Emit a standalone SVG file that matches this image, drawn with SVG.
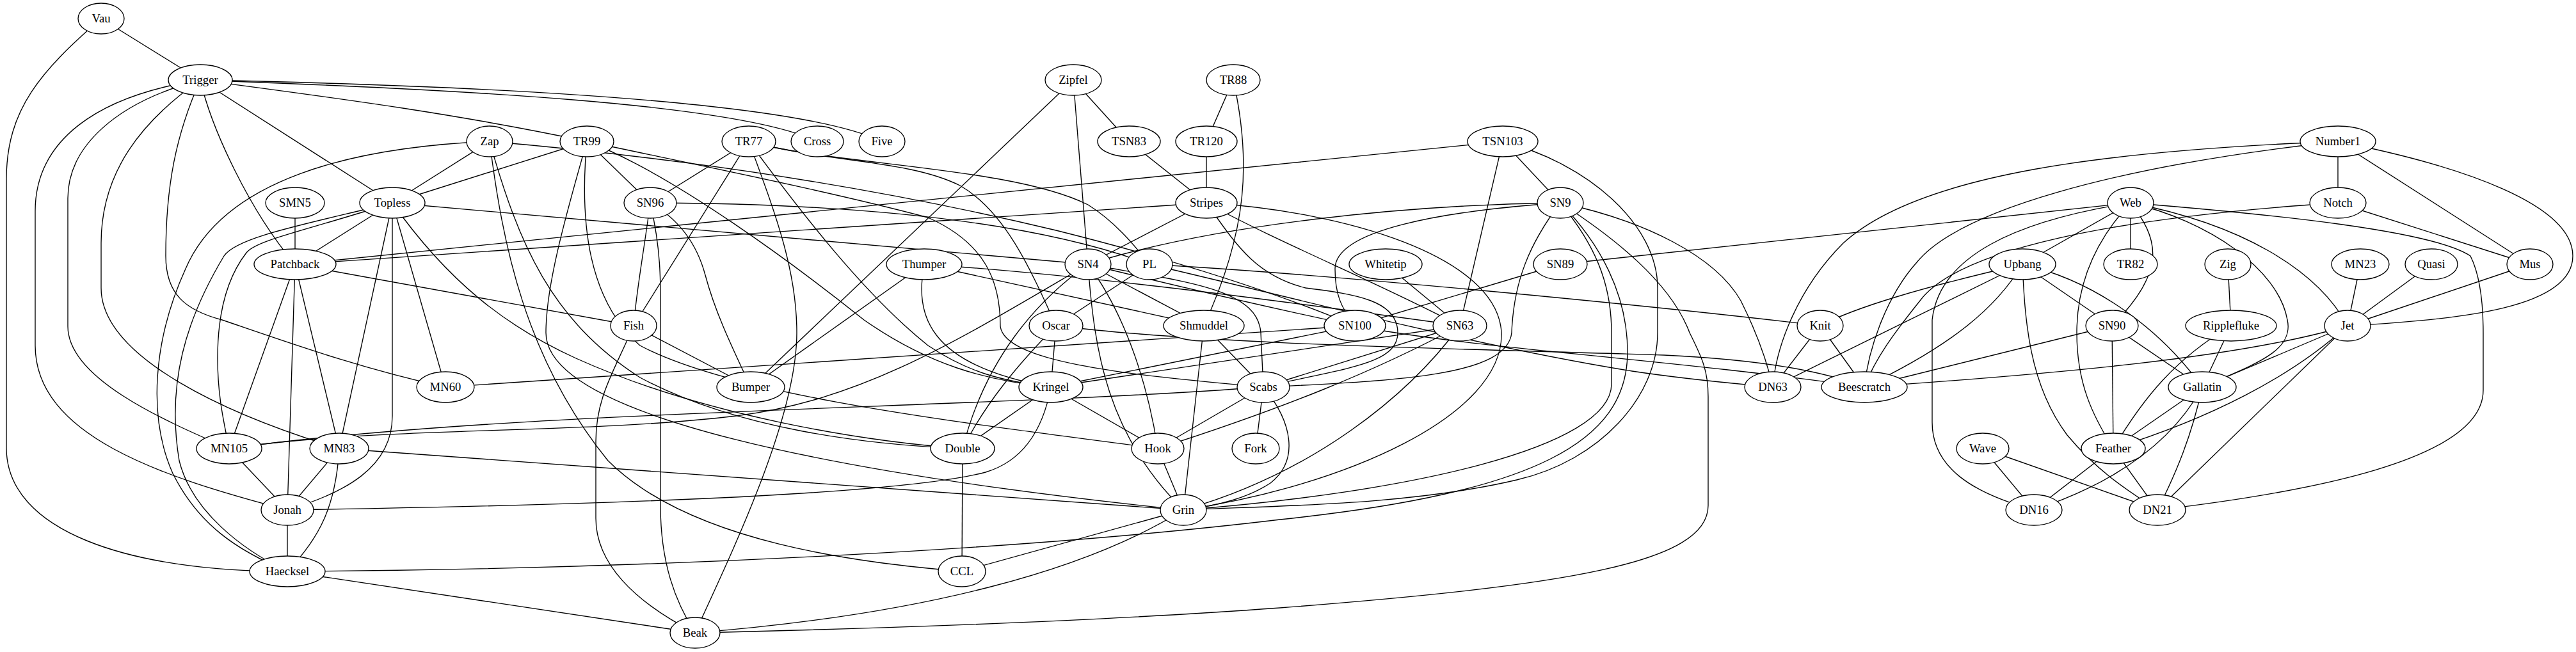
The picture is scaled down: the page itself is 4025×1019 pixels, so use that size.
<svg xmlns="http://www.w3.org/2000/svg" width="4025" height="1019" viewBox="0 0 4025 1019">
<style>
.e{fill:none;stroke:#000;stroke-width:1.35}
.n ellipse{fill:#fff;stroke:#000;stroke-width:1.35}
.n text{font-family:"Liberation Serif","Times New Roman",serif;font-size:18.7px;text-anchor:middle;fill:#000}
</style>
<rect width="4025" height="1019" fill="#fff"/>
<g id="edges">
<path class="e" d="M1504,701 L1503,893"/>
<path class="e" d="M3302,701 L3178,797"/>
<path class="e" d="M3302,701 L3371,797"/>
<path class="e" d="M990,509 C960,580 931,620 931,690 L931,810 C931,880 990,940 1086,989"/>
<path class="e" d="M990,509 L1173,605"/>
<path class="e" d="M3441,605 C3400,680 3320,750 3178,797"/>
<path class="e" d="M3441,605 C3425,680 3400,740 3371,797"/>
<path class="e" d="M3441,605 L3302,701"/>
<path class="e" d="M1849,797 C1700,890 1450,960 1086,989"/>
<path class="e" d="M1849,797 L1503,893"/>
<path class="e" d="M449,893 L1086,989"/>
<path class="e" d="M1809,701 L1849,797"/>
<path class="e" d="M3668,509 C3500,560 3200,585 2913,605"/>
<path class="e" d="M3668,509 L3371,797"/>
<path class="e" d="M3668,509 C3580,590 3450,655 3302,701"/>
<path class="e" d="M3668,509 L3441,605"/>
<path class="e" d="M449,797 L449,893"/>
<path class="e" d="M2844,509 L2913,605"/>
<path class="e" d="M2844,509 L2770,605"/>
<path class="e" d="M1642,605 L1504,701"/>
<path class="e" d="M1642,605 L1809,701"/>
<path class="e" d="M1642,605 C1630,670 1600,720 1540,738 C1400,775 900,790 449,797"/>
<path class="e" d="M358,701 L449,797"/>
<path class="e" d="M3688,413 L3668,509"/>
<path class="e" d="M530,701 L1849,797"/>
<path class="e" d="M530,701 C525,790 500,840 449,893"/>
<path class="e" d="M530,701 L449,797"/>
<path class="e" d="M3953,413 L3668,509"/>
<path class="e" d="M3653,317 C3300,340 3060,390 3000,470 C2960,520 2930,560 2913,605"/>
<path class="e" d="M3653,317 L3953,413"/>
<path class="e" d="M3653,221 C3300,260 3060,330 2995,410 C2950,460 2920,540 2913,605"/>
<path class="e" d="M3653,221 C3300,235 3000,270 2880,380 C2810,450 2775,540 2770,605"/>
<path class="e" d="M3653,221 C3850,260 4020,320 4020,400 C4020,480 3850,500 3668,509"/>
<path class="e" d="M3653,221 L3953,413"/>
<path class="e" d="M3653,221 L3653,317"/>
<path class="e" d="M1650,509 C1900,540 2300,545 2600,555 C2750,562 2850,580 2913,605"/>
<path class="e" d="M1650,509 C1590,570 1540,630 1504,701"/>
<path class="e" d="M1650,509 L1642,605"/>
<path class="e" d="M461,413 L990,509"/>
<path class="e" d="M461,413 L449,797"/>
<path class="e" d="M461,413 L358,701"/>
<path class="e" d="M461,413 L530,701"/>
<path class="e" d="M1796,413 C2000,460 2300,540 2550,580 C2650,595 2720,600 2770,605"/>
<path class="e" d="M1796,413 C2100,430 2600,480 2844,509"/>
<path class="e" d="M1796,413 L1650,509"/>
<path class="e" d="M3799,413 L3668,509"/>
<path class="e" d="M3486,509 C3400,560 3350,620 3302,701"/>
<path class="e" d="M3486,509 L3441,605"/>
<path class="e" d="M1974,605 L1962,701"/>
<path class="e" d="M1974,605 C2020,660 2030,720 1985,755 C1950,778 1905,790 1849,797"/>
<path class="e" d="M1974,605 L1809,701"/>
<path class="e" d="M1974,605 C1500,640 800,640 358,701"/>
<path class="e" d="M1881,509 L1849,797"/>
<path class="e" d="M1881,509 L1974,605"/>
<path class="e" d="M461,317 L461,413"/>
<path class="e" d="M2117,509 C2300,545 2600,560 2913,605"/>
<path class="e" d="M2117,509 L1642,605"/>
<path class="e" d="M2117,509 L696,605"/>
<path class="e" d="M1700,413 C1620,470 1540,560 1504,701"/>
<path class="e" d="M1700,413 C1710,550 1730,680 1849,797"/>
<path class="e" d="M1700,413 C1750,480 1790,580 1809,701"/>
<path class="e" d="M1700,413 C1500,530 1350,625 1150,650 C900,680 600,665 358,701"/>
<path class="e" d="M1700,413 L1881,509"/>
<path class="e" d="M1700,413 C1850,450 1980,480 2117,509"/>
<path class="e" d="M1700,413 C1850,440 1965,450 1970,520 L1974,605"/>
<path class="e" d="M2281,509 C2200,620 2050,740 1849,797"/>
<path class="e" d="M2281,509 C2150,580 2000,640 1809,701"/>
<path class="e" d="M2281,509 L1642,605"/>
<path class="e" d="M2281,509 L1974,605"/>
<path class="e" d="M2438,413 L2117,509"/>
<path class="e" d="M2438,317 C2520,370 2610,440 2640,520 C2660,560 2669,580 2669,620 L2669,790 C2669,880 2450,915 2000,950 C1700,972 1350,983 1086,989"/>
<path class="e" d="M2438,317 C2570,345 2680,400 2720,470 C2745,520 2760,560 2770,605"/>
<path class="e" d="M2438,317 C2490,380 2518,440 2518,520 L2518,600 C2518,700 2200,770 1849,797"/>
<path class="e" d="M2438,317 C2500,380 2543,460 2543,550 C2543,690 2400,770 2000,812 C1600,860 1000,890 449,893"/>
<path class="e" d="M2438,317 C2390,380 2365,440 2362,520 C2355,585 2200,595 1974,605"/>
<path class="e" d="M2438,317 C2250,330 2086,360 2086,420 C2086,460 2095,480 2117,509"/>
<path class="e" d="M2438,317 C2200,320 1900,350 1700,413"/>
<path class="e" d="M3300,509 L2913,605"/>
<path class="e" d="M3300,509 L3302,701"/>
<path class="e" d="M3300,509 L3441,605"/>
<path class="e" d="M1016,317 C1035,400 1032,450 1032,520 L1032,790 C1032,880 1055,940 1086,989"/>
<path class="e" d="M1016,317 C1065,345 1090,385 1102,430 C1118,490 1145,545 1173,605"/>
<path class="e" d="M1016,317 C1005,400 995,450 990,509"/>
<path class="e" d="M1016,317 C1300,318 1600,340 1796,413"/>
<path class="e" d="M1885,317 C2100,330 2340,400 2346,520 C2350,650 2100,760 1849,797"/>
<path class="e" d="M1885,317 L461,413"/>
<path class="e" d="M1885,317 C1930,380 1960,430 2040,450 C2120,460 2184,470 2184,520 C2184,570 2100,575 1974,605"/>
<path class="e" d="M1885,317 L1700,413"/>
<path class="e" d="M1885,317 C2000,380 2150,440 2281,509"/>
<path class="e" d="M1444,413 L1173,605"/>
<path class="e" d="M1444,413 C1430,490 1445,570 1642,605"/>
<path class="e" d="M1444,413 L1881,509"/>
<path class="e" d="M1444,413 C1700,430 2000,470 2281,509"/>
<path class="e" d="M613,317 C700,440 790,510 900,560 C1100,650 1350,690 1504,701"/>
<path class="e" d="M613,317 C480,350 370,370 350,400 C290,500 260,600 280,720 C300,800 380,860 449,893"/>
<path class="e" d="M613,317 L613,650 C613,730 540,770 449,797"/>
<path class="e" d="M613,317 C480,360 400,375 385,395 C350,440 340,500 340,560 C340,620 350,660 358,701"/>
<path class="e" d="M613,317 L696,605"/>
<path class="e" d="M613,317 L530,701"/>
<path class="e" d="M613,317 L461,413"/>
<path class="e" d="M613,317 L1700,413"/>
<path class="e" d="M1885,221 L1885,317"/>
<path class="e" d="M1170,221 C1210,330 1245,420 1245,520 C1245,650 1150,850 1086,989"/>
<path class="e" d="M1170,221 L990,509"/>
<path class="e" d="M1170,221 C1250,330 1350,460 1450,540 C1510,580 1560,595 1642,605"/>
<path class="e" d="M1170,221 C1300,255 1420,250 1500,290 C1570,330 1610,420 1650,509"/>
<path class="e" d="M1170,221 C1300,258 1580,260 1700,320 C1740,345 1770,380 1796,413"/>
<path class="e" d="M1170,221 L1016,317"/>
<path class="e" d="M1927,125 C1955,250 1950,360 1881,509"/>
<path class="e" d="M1927,125 L1885,221"/>
<path class="e" d="M917,221 C880,350 853,450 853,520 C853,650 1300,740 1849,797"/>
<path class="e" d="M917,221 C905,350 920,470 1000,540 C1150,620 1500,660 1809,701"/>
<path class="e" d="M917,221 C1050,270 1250,420 1350,500 C1450,570 1540,595 1642,605"/>
<path class="e" d="M917,221 C1100,260 1300,300 1450,340 C1540,380 1563,440 1563,510 C1570,565 1750,585 1974,605"/>
<path class="e" d="M917,221 L1016,317"/>
<path class="e" d="M917,221 L613,317"/>
<path class="e" d="M313,125 C700,140 1150,160 1277,221"/>
<path class="e" d="M313,125 C800,135 1250,160 1378,221"/>
<path class="e" d="M313,125 C150,150 55,220 55,330 L55,540 C55,680 250,745 449,797"/>
<path class="e" d="M313,125 C180,160 106,230 106,310 L106,510 C106,590 250,655 358,701"/>
<path class="e" d="M313,125 C275,210 259,290 259,400 C259,460 290,485 347,500 C450,535 560,575 696,605"/>
<path class="e" d="M313,125 C220,190 158,270 158,380 L158,450 C158,560 360,650 530,701"/>
<path class="e" d="M313,125 C330,200 390,330 461,413"/>
<path class="e" d="M313,125 L613,317"/>
<path class="e" d="M313,125 C500,150 700,175 917,221"/>
<path class="e" d="M2348,221 C2480,255 2590,350 2590,450 L2590,520 C2590,620 2500,720 2370,750 C2200,790 2000,790 1849,797"/>
<path class="e" d="M2348,221 L461,413"/>
<path class="e" d="M2348,221 L2281,509"/>
<path class="e" d="M2348,221 L2438,317"/>
<path class="e" d="M1764,221 L1885,317"/>
<path class="e" d="M3160,413 C3120,480 3050,540 2913,605"/>
<path class="e" d="M3160,413 C3164,500 3170,600 3230,680 C3280,740 3330,770 3371,797"/>
<path class="e" d="M3160,413 L2770,605"/>
<path class="e" d="M3160,413 C3280,440 3380,520 3441,605"/>
<path class="e" d="M3160,413 C3000,450 2900,480 2844,509"/>
<path class="e" d="M3160,413 L3300,509"/>
<path class="e" d="M158,29 C65,110 10,170 10,280 L10,700 C10,830 200,893 449,893"/>
<path class="e" d="M158,29 L313,125"/>
<path class="e" d="M3098,701 L3178,797"/>
<path class="e" d="M3098,701 L3371,797"/>
<path class="e" d="M3329,317 C3150,345 3030,400 3019,500 L3019,660 C3019,730 3080,770 3178,797"/>
<path class="e" d="M3329,317 C3550,335 3800,360 3860,400 C3875,430 3880,470 3880,520 L3880,610 C3880,720 3600,770 3371,797"/>
<path class="e" d="M3329,317 C3270,380 3245,450 3245,520 C3245,600 3270,650 3302,701"/>
<path class="e" d="M3329,317 C3450,345 3560,420 3574,500 C3585,550 3520,570 3441,605"/>
<path class="e" d="M3329,317 C3500,350 3620,420 3668,509"/>
<path class="e" d="M3329,317 L2438,413"/>
<path class="e" d="M3329,317 C3370,370 3390,420 3300,509"/>
<path class="e" d="M3329,317 L3329,413"/>
<path class="e" d="M3329,317 L3160,413"/>
<path class="e" d="M2165,413 L2281,509"/>
<path class="e" d="M765,221 C785,380 820,560 950,720 C1080,850 1350,880 1503,893"/>
<path class="e" d="M765,221 C810,380 860,500 1000,590 C1150,670 1350,695 1504,701"/>
<path class="e" d="M765,221 C550,230 350,280 290,420 C240,530 230,650 270,740 C310,820 370,860 449,893"/>
<path class="e" d="M765,221 C1100,250 1400,300 1650,360 C1850,410 2000,460 2117,509"/>
<path class="e" d="M765,221 L613,317"/>
<path class="e" d="M3481,413 L3486,509"/>
<path class="e" d="M1677,125 L1173,605"/>
<path class="e" d="M1677,125 L1700,413"/>
<path class="e" d="M1677,125 L1764,221"/>
</g>
<g id="node-Vau" class="n"><ellipse cx="158" cy="29" rx="36" ry="24"/><text x="158" y="35">Vau</text></g>
<g id="node-Trigger" class="n"><ellipse cx="313" cy="125" rx="50" ry="24"/><text x="313" y="131">Trigger</text></g>
<g id="node-Zap" class="n"><ellipse cx="765" cy="221" rx="36" ry="24"/><text x="765" y="227">Zap</text></g>
<g id="node-TR99" class="n"><ellipse cx="917" cy="221" rx="42" ry="24"/><text x="917" y="227">TR99</text></g>
<g id="node-TR77" class="n"><ellipse cx="1170" cy="221" rx="42" ry="24"/><text x="1170" y="227">TR77</text></g>
<g id="node-Cross" class="n"><ellipse cx="1277" cy="221" rx="41" ry="24"/><text x="1277" y="227">Cross</text></g>
<g id="node-Five" class="n"><ellipse cx="1378" cy="221" rx="36" ry="24"/><text x="1378" y="227">Five</text></g>
<g id="node-Zipfel" class="n"><ellipse cx="1677" cy="125" rx="44" ry="24"/><text x="1677" y="131">Zipfel</text></g>
<g id="node-TR88" class="n"><ellipse cx="1927" cy="125" rx="42" ry="24"/><text x="1927" y="131">TR88</text></g>
<g id="node-TSN83" class="n"><ellipse cx="1764" cy="221" rx="49" ry="24"/><text x="1764" y="227">TSN83</text></g>
<g id="node-TR120" class="n"><ellipse cx="1885" cy="221" rx="48" ry="24"/><text x="1885" y="227">TR120</text></g>
<g id="node-TSN103" class="n"><ellipse cx="2348" cy="221" rx="55" ry="24"/><text x="2348" y="227">TSN103</text></g>
<g id="node-Number1" class="n"><ellipse cx="3653" cy="221" rx="59" ry="24"/><text x="3653" y="227">Number1</text></g>
<g id="node-SMN5" class="n"><ellipse cx="461" cy="317" rx="46" ry="24"/><text x="461" y="323">SMN5</text></g>
<g id="node-Topless" class="n"><ellipse cx="613" cy="317" rx="51" ry="24"/><text x="613" y="323">Topless</text></g>
<g id="node-SN96" class="n"><ellipse cx="1016" cy="317" rx="41" ry="24"/><text x="1016" y="323">SN96</text></g>
<g id="node-Stripes" class="n"><ellipse cx="1885" cy="317" rx="48" ry="24"/><text x="1885" y="323">Stripes</text></g>
<g id="node-SN9" class="n"><ellipse cx="2438" cy="317" rx="36" ry="24"/><text x="2438" y="323">SN9</text></g>
<g id="node-Web" class="n"><ellipse cx="3329" cy="317" rx="36" ry="24"/><text x="3329" y="323">Web</text></g>
<g id="node-Notch" class="n"><ellipse cx="3653" cy="317" rx="44" ry="24"/><text x="3653" y="323">Notch</text></g>
<g id="node-Patchback" class="n"><ellipse cx="461" cy="413" rx="64" ry="24"/><text x="461" y="419">Patchback</text></g>
<g id="node-Thumper" class="n"><ellipse cx="1444" cy="413" rx="59" ry="24"/><text x="1444" y="419">Thumper</text></g>
<g id="node-SN4" class="n"><ellipse cx="1700" cy="413" rx="36" ry="24"/><text x="1700" y="419">SN4</text></g>
<g id="node-PL" class="n"><ellipse cx="1796" cy="413" rx="36" ry="24"/><text x="1796" y="419">PL</text></g>
<g id="node-Whitetip" class="n"><ellipse cx="2165" cy="413" rx="57" ry="24"/><text x="2165" y="419">Whitetip</text></g>
<g id="node-SN89" class="n"><ellipse cx="2438" cy="413" rx="42" ry="24"/><text x="2438" y="419">SN89</text></g>
<g id="node-Upbang" class="n"><ellipse cx="3160" cy="413" rx="52" ry="24"/><text x="3160" y="419">Upbang</text></g>
<g id="node-TR82" class="n"><ellipse cx="3329" cy="413" rx="42" ry="24"/><text x="3329" y="419">TR82</text></g>
<g id="node-Zig" class="n"><ellipse cx="3481" cy="413" rx="36" ry="24"/><text x="3481" y="419">Zig</text></g>
<g id="node-MN23" class="n"><ellipse cx="3688" cy="413" rx="45" ry="24"/><text x="3688" y="419">MN23</text></g>
<g id="node-Quasi" class="n"><ellipse cx="3799" cy="413" rx="41" ry="24"/><text x="3799" y="419">Quasi</text></g>
<g id="node-Mus" class="n"><ellipse cx="3953" cy="413" rx="36" ry="24"/><text x="3953" y="419">Mus</text></g>
<g id="node-Fish" class="n"><ellipse cx="990" cy="509" rx="36" ry="24"/><text x="990" y="515">Fish</text></g>
<g id="node-Oscar" class="n"><ellipse cx="1650" cy="509" rx="42" ry="24"/><text x="1650" y="515">Oscar</text></g>
<g id="node-Shmuddel" class="n"><ellipse cx="1881" cy="509" rx="63" ry="24"/><text x="1881" y="515">Shmuddel</text></g>
<g id="node-SN100" class="n"><ellipse cx="2117" cy="509" rx="48" ry="24"/><text x="2117" y="515">SN100</text></g>
<g id="node-SN63" class="n"><ellipse cx="2281" cy="509" rx="42" ry="24"/><text x="2281" y="515">SN63</text></g>
<g id="node-Knit" class="n"><ellipse cx="2844" cy="509" rx="36" ry="24"/><text x="2844" y="515">Knit</text></g>
<g id="node-SN90" class="n"><ellipse cx="3300" cy="509" rx="41" ry="24"/><text x="3300" y="515">SN90</text></g>
<g id="node-Ripplefluke" class="n"><ellipse cx="3486" cy="509" rx="71" ry="24"/><text x="3486" y="515">Ripplefluke</text></g>
<g id="node-Jet" class="n"><ellipse cx="3668" cy="509" rx="36" ry="24"/><text x="3668" y="515">Jet</text></g>
<g id="node-MN60" class="n"><ellipse cx="696" cy="605" rx="45" ry="24"/><text x="696" y="611">MN60</text></g>
<g id="node-Bumper" class="n"><ellipse cx="1173" cy="605" rx="53" ry="24"/><text x="1173" y="611">Bumper</text></g>
<g id="node-Kringel" class="n"><ellipse cx="1642" cy="605" rx="50" ry="24"/><text x="1642" y="611">Kringel</text></g>
<g id="node-Scabs" class="n"><ellipse cx="1974" cy="605" rx="41" ry="24"/><text x="1974" y="611">Scabs</text></g>
<g id="node-DN63" class="n"><ellipse cx="2770" cy="605" rx="44" ry="24"/><text x="2770" y="611">DN63</text></g>
<g id="node-Beescratch" class="n"><ellipse cx="2913" cy="605" rx="67" ry="24"/><text x="2913" y="611">Beescratch</text></g>
<g id="node-Gallatin" class="n"><ellipse cx="3441" cy="605" rx="53" ry="24"/><text x="3441" y="611">Gallatin</text></g>
<g id="node-MN105" class="n"><ellipse cx="358" cy="701" rx="51" ry="24"/><text x="358" y="707">MN105</text></g>
<g id="node-MN83" class="n"><ellipse cx="530" cy="701" rx="46" ry="24"/><text x="530" y="707">MN83</text></g>
<g id="node-Double" class="n"><ellipse cx="1504" cy="701" rx="50" ry="24"/><text x="1504" y="707">Double</text></g>
<g id="node-Hook" class="n"><ellipse cx="1809" cy="701" rx="41" ry="24"/><text x="1809" y="707">Hook</text></g>
<g id="node-Fork" class="n"><ellipse cx="1962" cy="701" rx="37" ry="24"/><text x="1962" y="707">Fork</text></g>
<g id="node-Wave" class="n"><ellipse cx="3098" cy="701" rx="41" ry="24"/><text x="3098" y="707">Wave</text></g>
<g id="node-Feather" class="n"><ellipse cx="3302" cy="701" rx="50" ry="24"/><text x="3302" y="707">Feather</text></g>
<g id="node-Jonah" class="n"><ellipse cx="449" cy="797" rx="41" ry="24"/><text x="449" y="803">Jonah</text></g>
<g id="node-Grin" class="n"><ellipse cx="1849" cy="797" rx="36" ry="24"/><text x="1849" y="803">Grin</text></g>
<g id="node-DN16" class="n"><ellipse cx="3178" cy="797" rx="44" ry="24"/><text x="3178" y="803">DN16</text></g>
<g id="node-DN21" class="n"><ellipse cx="3371" cy="797" rx="44" ry="24"/><text x="3371" y="803">DN21</text></g>
<g id="node-Haecksel" class="n"><ellipse cx="449" cy="893" rx="59" ry="24"/><text x="449" y="899">Haecksel</text></g>
<g id="node-CCL" class="n"><ellipse cx="1503" cy="893" rx="37" ry="24"/><text x="1503" y="899">CCL</text></g>
<g id="node-Beak" class="n"><ellipse cx="1086" cy="989" rx="39" ry="24"/><text x="1086" y="995">Beak</text></g>
</svg>
